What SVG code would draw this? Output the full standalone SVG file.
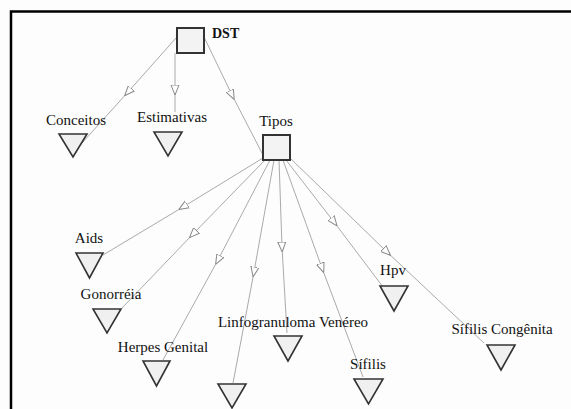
<svg xmlns="http://www.w3.org/2000/svg" width="571" height="409" viewBox="0 0 571 409">
<defs>
<marker id="arr" viewBox="0 0 10 10" refX="5" refY="5" markerWidth="10" markerHeight="10" markerUnits="userSpaceOnUse" orient="auto">
<path d="M0,1 L10,5 L0,9 Z" fill="#fff" stroke="#888" stroke-width="1"/>
</marker>
</defs>
<style>
.bg{fill:#fdfdfd}
.frame{fill:none;stroke:#000;stroke-width:2.5}
.edge{fill:none;stroke:#aaa;stroke-width:1;marker-mid:url(#arr)}
.box{fill:#f3f3f3;stroke:#333;stroke-width:2}
.tri{fill:#f0f0f0;stroke:#333;stroke-width:1.6;stroke-linejoin:miter}
.lbl{font-family:"Liberation Serif",serif;font-size:15px;fill:#111;text-anchor:middle}
.bold{font-weight:bold;font-size:14px;text-anchor:start}
</style>
<rect class="bg" x="0" y="0" width="571" height="409"/>
<path class="frame" d="M11,409 V11.5 H571"/>
<g id="connectors">
<polyline class="edge" points="176,38 128,92 82,143"/>
<polyline class="edge" points="175,53 175,90 175,112"/>
<polyline class="edge" points="204,37 232,95 263,155"/>
<polyline class="edge" points="263,158 183,207 103,255"/>
<polyline class="edge" points="266,159 193,234 122,308"/>
<polyline class="edge" points="270,160 218,260 163,360"/>
<polyline class="edge" points="274,160 254,272 233,383"/>
<polyline class="edge" points="279,160 282,247 287,333"/>
<polyline class="edge" points="283,160 322,268 363,377"/>
<polyline class="edge" points="286,160 334,222 383,287"/>
<polyline class="edge" points="290,158 387,252 484,343"/>
</g>
<g id="DST">
<rect class="box" x="177" y="28" width="27" height="25"/>
<text class="lbl bold" x="212" y="38">DST</text>
</g>
<g id="Conceitos">
<text class="lbl" x="76" y="125">Conceitos</text>
<polygon class="tri" points="59,134 87,134 73,157"/>
</g>
<g id="Estimativas">
<text class="lbl" x="172" y="122">Estimativas</text>
<polygon class="tri" points="154,132 182,132 168,156"/>
</g>
<g id="Tipos">
<text class="lbl" x="276" y="126">Tipos</text>
<rect class="box" x="263" y="135" width="27" height="25"/>
</g>
<g id="Aids">
<text class="lbl" x="89" y="243">Aids</text>
<polygon class="tri" points="76,253 103,253 89.5,278"/>
</g>
<g id="Gonorreia">
<text class="lbl" x="111" y="299">Gonorréia</text>
<polygon class="tri" points="93,309 121,309 107,333"/>
</g>
<g id="HerpesGenital">
<text class="lbl" x="163" y="352">Herpes Genital</text>
<polygon class="tri" points="143,361 170,361 156.5,386"/>
</g>
<g id="Unnamed">
<polygon class="tri" points="218,384 246,384 232,408"/>
</g>
<g id="LinfogranulomaVenereo">
<text class="lbl" x="293" y="327">Linfogranuloma Venéreo</text>
<polygon class="tri" points="274,336 302,336 288,361"/>
</g>
<g id="Sifilis">
<text class="lbl" x="368" y="369">Sífilis</text>
<polygon class="tri" points="354,379 383,379 368.5,404"/>
</g>
<g id="Hpv">
<text class="lbl" x="393" y="275">Hpv</text>
<polygon class="tri" points="380,286 408,286 394,311"/>
</g>
<g id="SifilisCongenita">
<text class="lbl" x="502" y="334">Sífilis Congênita</text>
<polygon class="tri" points="487,345 515,345 501,370"/>
</g>
</svg>
